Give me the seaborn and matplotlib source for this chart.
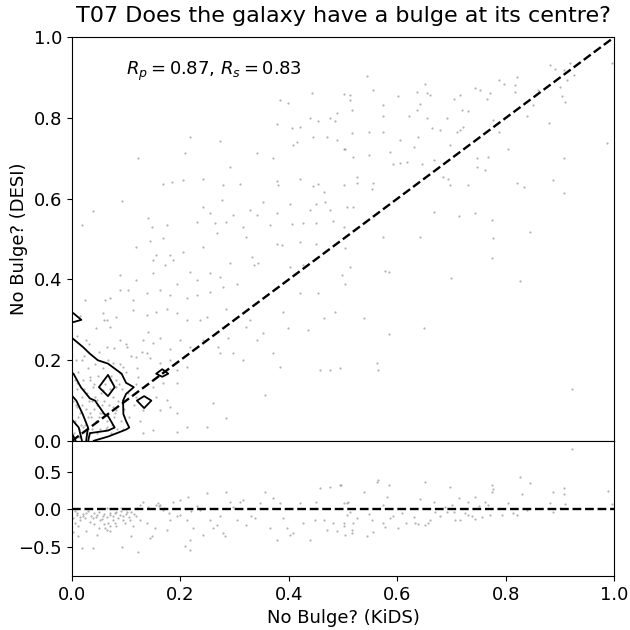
import numpy as np
import matplotlib
matplotlib.use("Agg")
import matplotlib.pyplot as plt
import seaborn as sns

# scattered galaxies (KiDS vote fraction, DESI vote fraction)
main_x = [0.442, 0.384, 0.399, 0.513, 0.439, 0.454, 0.476, 0.485, 0.488, 0.405, 0.421, 0.378, 0.218, 0.273,
          0.415, 0.408, 0.445, 0.470, 0.488, 0.504, 0.208, 0.341, 0.371, 0.122, 0.292, 0.205, 0.184, 0.168,
          0.242, 0.279, 0.310, 0.378, 0.381, 0.421, 0.445, 0.454, 0.464, 0.501, 0.092, 0.039, 0.276, 0.242,
          0.255, 0.298, 0.353, 0.328, 0.341, 0.378, 0.402, 0.439, 0.451, 0.467, 0.476, 0.018, 0.141, 0.147,
          0.175, 0.230, 0.264, 0.285, 0.316, 0.365, 0.405, 0.427, 0.451, 0.482, 0.501, 0.267, 0.322, 0.378,
          0.421, 0.119, 0.144, 0.168,
          0.544, 0.556, 0.501, 0.513, 0.574, 0.602, 0.636, 0.651, 0.654, 0.661, 0.642, 0.636, 0.516, 0.574,
          0.621, 0.654, 0.691, 0.704, 0.716, 0.744, 0.753, 0.765, 0.771, 0.787, 0.796, 0.820, 0.817, 0.817,
          0.719, 0.731, 0.722, 0.710, 0.716, 0.679, 0.664, 0.639, 0.605, 0.574, 0.547, 0.516, 0.501, 0.519,
          0.547, 0.587, 0.593, 0.605, 0.618, 0.645, 0.630, 0.667, 0.697, 0.685, 0.694, 0.697, 0.777, 0.787,
          0.805, 0.747, 0.768, 0.747, 0.762, 0.731, 0.820, 0.833, 0.839, 0.851, 0.860, 0.882, 0.891, 0.907,
          0.919, 0.925, 0.913, 0.900, 0.903, 0.910, 0.879, 0.907, 0.888, 0.908, 0.986, 0.507, 0.519, 0.525,
          0.525, 0.556, 0.553, 0.667, 0.713, 0.744, 0.774, 0.845, 0.777, 0.642, 0.574, 0.995,
          0.181, 0.156, 0.150, 0.205, 0.242, 0.172, 0.187, 0.089, 0.119, 0.150, 0.193, 0.218, 0.230, 0.255,
          0.273, 0.292, 0.332, 0.335, 0.344, 0.387, 0.402, 0.427, 0.451, 0.061, 0.070, 0.089, 0.104, 0.113,
          0.138, 0.162, 0.181, 0.212, 0.230, 0.255, 0.279, 0.304, 0.421, 0.454, 0.058, 0.064, 0.070, 0.082,
          0.113, 0.138, 0.156, 0.175, 0.193, 0.212, 0.236, 0.249, 0.285, 0.322, 0.328, 0.353, 0.390, 0.399,
          0.436, 0.464, 0.485, 0.027, 0.064, 0.089, 0.101, 0.132, 0.150, 0.162, 0.181, 0.199, 0.218, 0.242,
          0.270, 0.273, 0.288, 0.298, 0.316, 0.341, 0.371, 0.384, 0.458, 0.476, 0.494, 0.119, 0.138, 0.144,
          0.162, 0.181, 0.193, 0.212, 0.076, 0.095, 0.122, 0.150, 0.156, 0.168, 0.193, 0.175, 0.181, 0.193,
          0.162, 0.261, 0.285, 0.212, 0.249, 0.132, 0.150, 0.193, 0.356, 0.082, 0.095, 0.119, 0.132, 0.033,
          0.039, 0.046, 0.052, 0.058, 0.070, 0.082, 0.089, 0.064, 0.076, 0.033, 0.018, 0.009, 0.009, 0.021,
          0.015,
          0.504, 0.513, 0.498, 0.504, 0.578, 0.584, 0.774, 0.699, 0.827, 0.538, 0.585, 0.650, 0.562, 0.564,
          0.923,
          0.004, 0.006, 0.008, 0.010, 0.012, 0.014, 0.016, 0.018, 0.020, 0.022, 0.024, 0.026, 0.028, 0.030,
          0.032, 0.034, 0.036, 0.038, 0.040, 0.042, 0.044, 0.046, 0.048, 0.050, 0.052, 0.054, 0.056, 0.058,
          0.060, 0.062, 0.064, 0.066, 0.068, 0.070, 0.072, 0.074, 0.076, 0.078, 0.080, 0.082, 0.085, 0.088,
          0.090, 0.093, 0.096, 0.100, 0.103, 0.106, 0.110, 0.114, 0.118, 0.003, 0.005, 0.007, 0.009, 0.011,
          0.013, 0.017, 0.019, 0.023, 0.027, 0.029, 0.031, 0.033, 0.037, 0.041, 0.043, 0.047, 0.051, 0.055,
          0.057, 0.063, 0.067, 0.073, 0.077, 0.083, 0.087, 0.095, 0.100, 0.120, 0.125, 0.130, 0.140, 0.015,
          0.025, 0.045, 0.060]
main_y = [0.861, 0.844, 0.836, 0.856, 0.801, 0.793, 0.801, 0.793, 0.813, 0.774, 0.778, 0.786, 0.753, 0.743,
          0.741, 0.733, 0.753, 0.753, 0.745, 0.724, 0.712, 0.714, 0.700, 0.700, 0.679, 0.646, 0.642, 0.636,
          0.650, 0.634, 0.636, 0.644, 0.634, 0.650, 0.631, 0.636, 0.616, 0.634, 0.595, 0.569, 0.597, 0.580,
          0.564, 0.559, 0.592, 0.572, 0.559, 0.564, 0.588, 0.572, 0.588, 0.592, 0.572, 0.535, 0.551, 0.530,
          0.535, 0.543, 0.539, 0.543, 0.530, 0.535, 0.537, 0.539, 0.540, 0.545, 0.530, 0.514, 0.506, 0.489,
          0.493, 0.481, 0.496, 0.502,
          0.903, 0.869, 0.859, 0.844, 0.832, 0.854, 0.865, 0.885, 0.861, 0.856, 0.834, 0.819, 0.819, 0.804,
          0.804, 0.799, 0.801, 0.848, 0.856, 0.875, 0.870, 0.848, 0.861, 0.894, 0.884, 0.902, 0.881, 0.865,
          0.819, 0.818, 0.778, 0.766, 0.770, 0.770, 0.774, 0.753, 0.745, 0.766, 0.766, 0.762, 0.724, 0.704,
          0.708, 0.716, 0.687, 0.689, 0.691, 0.687, 0.728, 0.696, 0.733, 0.654, 0.650, 0.634, 0.795, 0.766,
          0.724, 0.700, 0.704, 0.679, 0.671, 0.634, 0.638, 0.628, 0.804, 0.832, 0.870, 0.931, 0.920, 0.918,
          0.935, 0.906, 0.894, 0.877, 0.854, 0.840, 0.788, 0.700, 0.646, 0.615, 0.738, 0.580, 0.580, 0.654,
          0.638, 0.638, 0.625, 0.568, 0.557, 0.565, 0.547, 0.518, 0.502, 0.506, 0.504, 0.935,
          0.460, 0.460, 0.448, 0.469, 0.481, 0.436, 0.448, 0.411, 0.399, 0.415, 0.390, 0.419, 0.399, 0.415,
          0.407, 0.440, 0.456, 0.436, 0.440, 0.485, 0.431, 0.436, 0.489, 0.349, 0.353, 0.374, 0.374, 0.349,
          0.366, 0.374, 0.361, 0.353, 0.361, 0.370, 0.382, 0.390, 0.366, 0.366, 0.316, 0.300, 0.283, 0.308,
          0.324, 0.312, 0.320, 0.328, 0.316, 0.300, 0.300, 0.308, 0.328, 0.283, 0.300, 0.267, 0.320, 0.279,
          0.275, 0.304, 0.320, 0.250, 0.233, 0.250, 0.233, 0.250, 0.242, 0.254, 0.229, 0.250, 0.233, 0.250,
          0.233, 0.217, 0.254, 0.217, 0.200, 0.250, 0.217, 0.184, 0.176, 0.176, 0.180, 0.209, 0.217, 0.205,
          0.192, 0.200, 0.176, 0.184, 0.192, 0.184, 0.159, 0.134, 0.110, 0.143, 0.143, 0.101, 0.085, 0.069,
          0.077, 0.093, 0.056, 0.035, 0.035, 0.019, 0.027, 0.023, 0.114, 0.077, 0.101, 0.110, 0.077, 0.159,
          0.134, 0.101, 0.069, 0.126, 0.151, 0.134, 0.168, 0.035, 0.085, 0.069, 0.200, 0.143, 0.085, 0.035,
          0.011,
          0.479, 0.430, 0.411, 0.390, 0.422, 0.418, 0.454, 0.403, 0.396, 0.304, 0.266, 0.281, 0.192, 0.176,
          0.130,
          0.020, 0.050, 0.090, 0.130, 0.170, 0.030, 0.070, 0.110, 0.150, 0.210, 0.040, 0.080, 0.120, 0.180,
          0.240, 0.020, 0.060, 0.100, 0.140, 0.190, 0.050, 0.090, 0.160, 0.220, 0.030, 0.120, 0.070, 0.180,
          0.100, 0.140, 0.050, 0.200, 0.090, 0.130, 0.160, 0.040, 0.110, 0.230, 0.070, 0.150, 0.100, 0.190,
          0.050, 0.130, 0.080, 0.170, 0.120, 0.060, 0.210, 0.090, 0.140, 0.100, 0.150, 0.200, 0.260, 0.060,
          0.010, 0.040, 0.090, 0.130, 0.020, 0.060, 0.100, 0.150, 0.030, 0.080, 0.110, 0.020, 0.060, 0.090,
          0.150, 0.030, 0.070, 0.020, 0.060, 0.030, 0.140, 0.030, 0.240, 0.180, 0.050, 0.220, 0.270, 0.310,
          0.350, 0.280, 0.300]

# residuals (KiDS - DESI) for the lower panel
res_x = [0.009, 0.015, 0.012, 0.021, 0.027, 0.033, 0.039, 0.046, 0.052, 0.058, 0.061, 0.064, 0.067, 0.070,
         0.076, 0.082, 0.089, 0.095, 0.098, 0.101, 0.107, 0.113, 0.119, 0.125, 0.132, 0.138, 0.144, 0.147,
         0.153, 0.159, 0.162, 0.168, 0.175, 0.181, 0.187, 0.193, 0.199, 0.212, 0.215, 0.218, 0.224, 0.236,
         0.242, 0.249, 0.255, 0.261, 0.267, 0.273, 0.279, 0.282, 0.285, 0.292, 0.298, 0.304, 0.310, 0.316,
         0.322, 0.331, 0.338, 0.347, 0.356, 0.365, 0.371, 0.378, 0.384, 0.390, 0.396, 0.402, 0.408, 0.421,
         0.427, 0.439, 0.448, 0.451, 0.457, 0.464, 0.470, 0.476, 0.482, 0.488, 0.494, 0.501, 0.507, 0.018,
         0.039, 0.092, 0.122, 0.208, 0.218, 0.110, 0.082, 0.070, 0.125, 0.046, 0.027, 0.006, 0.012,
         0.010, 0.020, 0.030, 0.040, 0.050, 0.060, 0.070, 0.080, 0.090, 0.100, 0.110, 0.115, 0.015, 0.025,
         0.035, 0.045, 0.055, 0.065, 0.075, 0.085, 0.095, 0.105, 0.060, 0.070, 0.080, 0.040, 0.050, 0.005,
         0.003, 0.002, 0.090, 0.100, 0.120, 0.065, 0.140, 0.160, 0.170, 0.155, 0.180, 0.200, 0.220, 0.230,
         0.497, 0.501, 0.510, 0.513, 0.507, 0.501, 0.504, 0.516, 0.516, 0.519, 0.525, 0.538, 0.544, 0.547,
         0.553, 0.556, 0.565, 0.562, 0.574, 0.581, 0.584, 0.574, 0.578, 0.587, 0.593, 0.602, 0.608, 0.617,
         0.630, 0.633, 0.639, 0.642, 0.651, 0.651, 0.657, 0.661, 0.667, 0.670, 0.679, 0.688, 0.691, 0.697,
         0.700, 0.704, 0.707, 0.713, 0.716, 0.725, 0.731, 0.731, 0.737, 0.744, 0.744, 0.750, 0.756, 0.762,
         0.768, 0.771, 0.774, 0.774, 0.777, 0.793, 0.805, 0.814, 0.820, 0.827, 0.830, 0.839, 0.845, 0.882,
         0.888, 0.888, 0.907, 0.908, 0.910, 0.900, 0.923, 0.988, 0.995]
res_y = [-0.076, -0.143, -0.231, -0.098, -0.054, -0.165, -0.120, -0.076, -0.143, -0.098, -0.254, -0.276,
         -0.187, -0.054, -0.098, -0.032, -0.076, -0.098, -0.187, -0.032, -0.143, -0.231, -0.098, 0.057,
         0.100, -0.187, -0.387, -0.365, -0.254, 0.079, 0.057, -0.009, -0.276, -0.143, 0.100, -0.098, 0.124,
         -0.143, 0.168, -0.409, -0.254, -0.009, -0.343, 0.213, -0.143, -0.254, -0.209, -0.098, -0.320,
         -0.365, 0.235, 0.100, 0.035, -0.143, 0.100, 0.124, -0.209, -0.098, -0.120, 0.079, 0.235, -0.254,
         0.146, -0.409, 0.079, -0.120, -0.254, -0.343, -0.320, 0.079, -0.187, -0.409, -0.143, 0.100, 0.279,
         -0.143, -0.276, 0.301, -0.187, -0.298, 0.324, -0.187, 0.079, -0.520, -0.520, -0.507, -0.574,
         -0.498, -0.543, -0.365, -0.231, -0.298, -0.143, -0.343, -0.298, -0.187, -0.365,
         -0.050, -0.070, -0.030, -0.050, -0.040, -0.060, -0.080, -0.050, -0.030, -0.060, -0.040, -0.070,
         -0.100, -0.120, -0.090, -0.110, -0.130, -0.110, -0.140, -0.120, -0.150, -0.100, -0.200, -0.220,
         -0.180, -0.200, -0.250, -0.020, -0.300, -0.120, 0.010, 0.000, 0.020, 0.010, 0.030, 0.040, 0.020,
         0.050, -0.050, -0.080, -0.030, 0.040,
         0.324, 0.088, 0.100, -0.032, -0.076, -0.231, -0.343, -0.276, -0.320, -0.187, -0.120, 0.235, -0.365,
         -0.063, -0.143, -0.311, 0.391, 0.368, 0.057, 0.159, 0.324, -0.187, -0.240, -0.120, -0.098, -0.254,
         -0.045, -0.187, -0.107, -0.187, -0.196, 0.133, 0.368, -0.209, -0.187, -0.143, 0.100, -0.032,
         -0.098, 0.035, -0.032, 0.301, 0.057, -0.032, -0.143, 0.146, -0.143, -0.054, 0.093, -0.076, -0.098,
         0.168, -0.134, 0.044, -0.111, 0.093, 0.057, -0.076, 0.324, 0.235, 0.266, -0.076, 0.079, -0.054,
         -0.076, 0.426, 0.204, -0.009, 0.346, 0.079, 0.235, -0.032, 0.279, 0.204, 0.070, 0.013, 0.800,
         0.248, 0.070]

# binned source counts for the density contours (bin edges of width 1/30)
grid_x = [0.0, 0.0333, 0.0667, 0.1, 0.1333, 0.1667, 0.2, 0.2333]
grid_y = [0.0, 0.0333, 0.0667, 0.1, 0.1333, 0.1667, 0.2, 0.2333, 0.2667, 0.3, 0.3333, 0.3667]
counts = [
    [20.0, 2.3, 0.54, 0.3, 0.2, 0.1, 0.1, 0.1],
    [13.0, 5.2, 5.0, 2.3, 0.6, 0.4, 0.3, 0.2],
    [8.0, 4.67, 3.83, 1.68, 1.84, 1.2, 0.8, 0.5],
    [6.6, 4.2, 3.5, 1.7, 2.2, 1.7, 1.2, 0.8],
    [5.0, 3.0, 5.0, 2.3, 1.6, 1.5, 1.2, 0.8],
    [4.1, 3.0, 3.9, 1.37, 1.7, 2.15, 1.7, 1.0],
    [3.0, 2.5, 1.36, 1.4, 1.3, 1.7, 1.3, 1.0],
    [2.8, 1.47, 1.3, 1.2, 1.2, 1.1, 1.0, 0.8],
    [1.6, 1.3, 1.2, 1.1, 1.0, 1.0, 0.8, 0.6],
    [2.1, 1.91, 1.2, 1.0, 0.9, 0.8, 0.7, 0.5],
    [1.93, 1.4, 1.0, 0.8, 0.7, 0.6, 0.5, 0.4],
    [0.8, 0.7, 0.6, 0.5, 0.4, 0.3, 0.3, 0.2],
]
levels = [2, 4, 6, 10, 16]

r_pearson = 0.87
r_spearman = 0.83

sns.set_style("ticks")
plt.rcParams["font.family"] = ["DejaVu Sans"]
plt.rcParams["text.color"] = "black"
plt.rcParams["axes.labelcolor"] = "black"
plt.rcParams["xtick.color"] = "black"
plt.rcParams["ytick.color"] = "black"

fig = plt.figure(figsize=(6.3, 6.3), dpi=100)
ax = fig.add_axes([0.114, 0.300, 0.861, 0.641])
axr = fig.add_axes([0.114, 0.086, 0.861, 0.214])

sns.scatterplot(x=main_x, y=main_y, ax=ax, s=2.5, color="grey", alpha=0.6, linewidth=0)
ax.contour(grid_x, grid_y, np.array(counts), levels=levels, colors="k", linewidths=1.3)
ax.plot([0, 1], [0, 1], "k--", lw=1.7)
ax.set_xlim(0, 1)
ax.set_ylim(0, 1)
ax.tick_params(axis="x", bottom=False, labelbottom=False)
ax.tick_params(axis="y", labelsize=13)
ax.set_ylabel("No Bulge? (DESI)", fontsize=13)
ax.set_title("T07 Does the galaxy have a bulge at its centre?", fontsize=16, pad=11)
ax.text(0.1, 0.915, rf"$R_p = {r_pearson}$, $R_s = {r_spearman}$", fontsize=13, va="center")

sns.scatterplot(x=res_x, y=res_y, ax=axr, s=2.5, color="grey", alpha=0.6, linewidth=0)
axr.axhline(0, color="k", ls="--", lw=1.7)
axr.set_xlim(0, 1)
axr.set_ylim(-0.89, 0.91)
axr.set_yticks([-0.5, 0.0, 0.5])
axr.tick_params(labelsize=13)
axr.set_xlabel("No Bulge? (KiDS)", fontsize=13)

for a in (ax, axr):
    for s in a.spines.values():
        s.set_color("k")

fig.savefig("out.png", dpi=100)
